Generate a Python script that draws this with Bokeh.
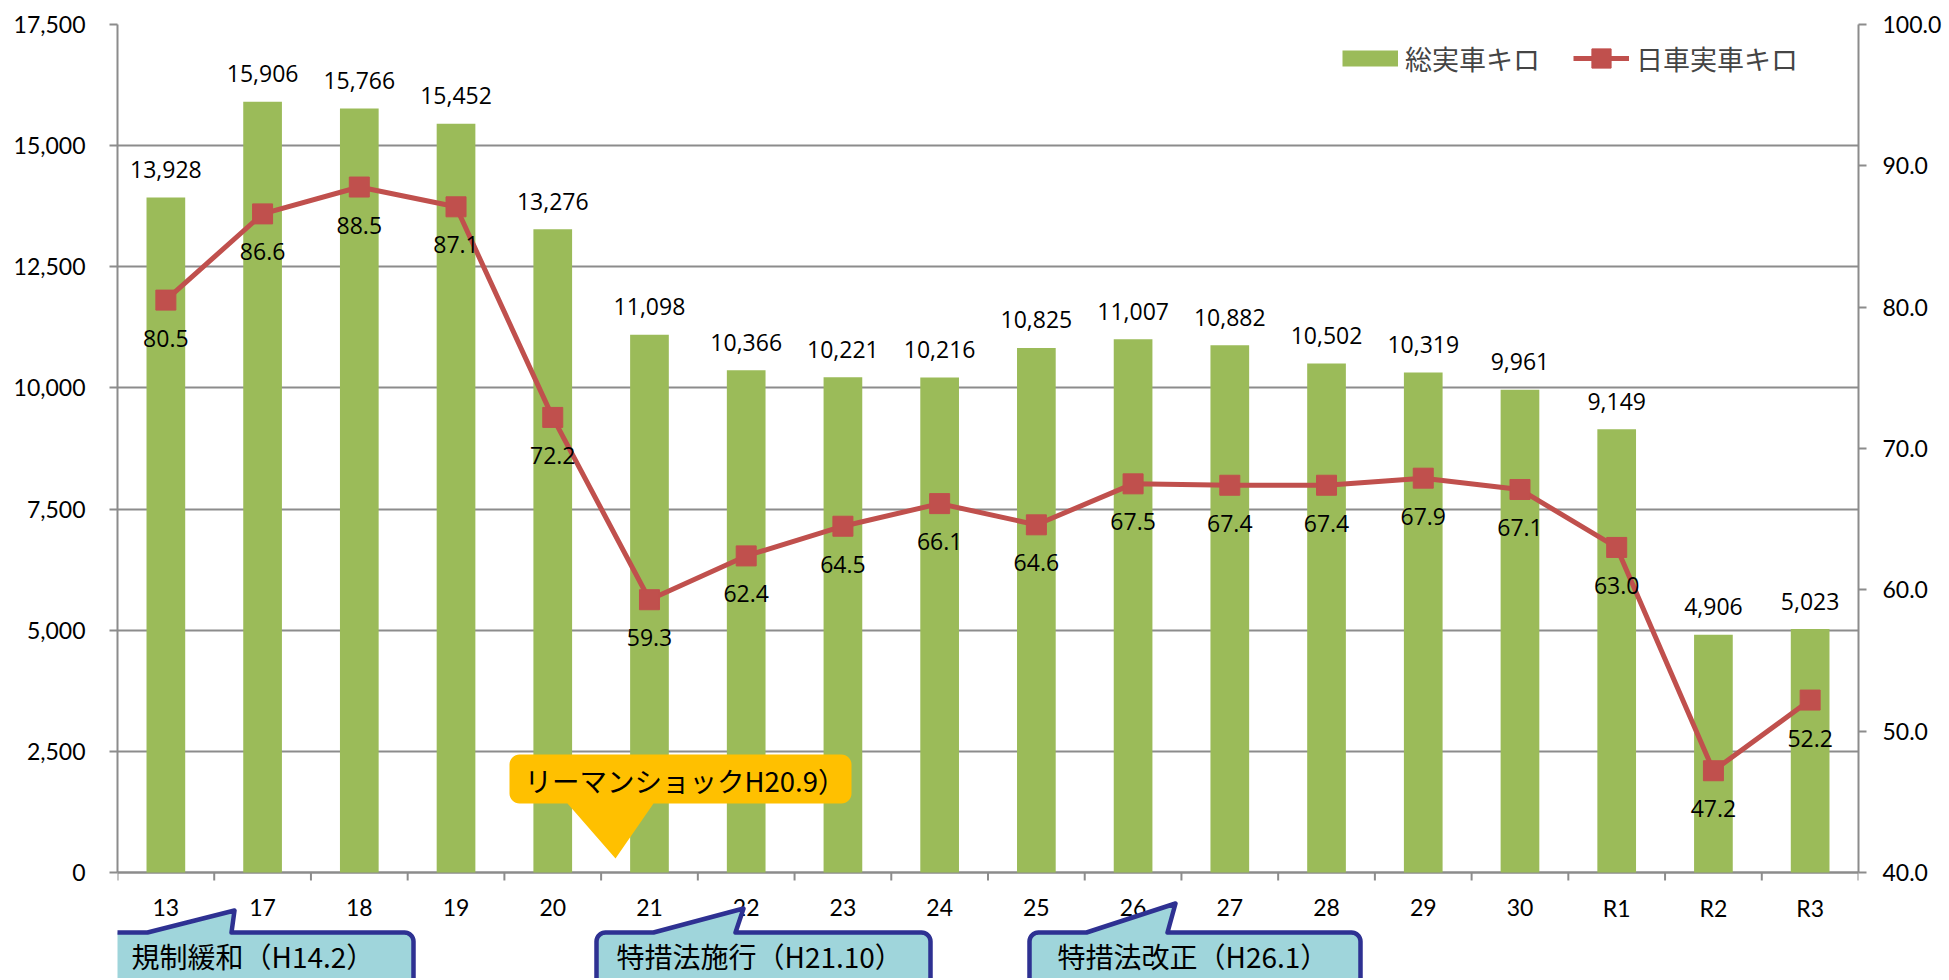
import math
import numpy as np
from bokeh.plotting import figure
from bokeh.models import (Range1d, LinearAxis, FixedTicker, NumeralTickFormatter,
                          Legend, LegendItem, PolyAnnotation, Label)
from bokeh.core.properties import value
from bokeh.embed import file_html
from bokeh.resources import INLINE

# ---------------- data ----------------
categories = ["13", "17", "18", "19", "20", "21", "22", "23", "24", "25",
              "26", "27", "28", "29", "30", "R1", "R2", "R3"]
total_km = [13928, 15906, 15766, 15452, 13276, 11098, 10366, 10221, 10216,
            10825, 11007, 10882, 10502, 10319, 9961, 9149, 4906, 5023]
daily_km = [80.5, 86.6, 88.5, 87.1, 72.2, 59.3, 62.4, 64.5, 66.1, 64.6,
            67.5, 67.4, 67.4, 67.9, 67.1, 63.0, 47.2, 52.2]
left_ticks = [0, 2500, 5000, 7500, 10000, 12500, 15000, 17500]
right_ticks = [40, 50, 60, 70, 80, 90, 100]
series_names = ["総実車キロ", "日車実車キロ"]
callout_texts = ["規制緩和（H14.2）", "特措法施行（H21.10）", "特措法改正（H26.1）",
                 "リーマンショックH20.9）"]

# ---------------- styles / layout ----------------
GREEN = "#9BBB59"
RED = "#C0504D"
GRAY = "#8C8C8C"
ORANGE = "#FFC000"
TEAL = "#9FD5DB"
NAVY = "#2E3192"
AX_FONT = "Lato"
LBL_FONT = "Open Sans"
JP_FONT = "Noto Sans CJK JP"

# canvas pixels: plotting area runs from AXIS_TOP to AXIS_Y; the frame is
# extended down to CANVAS_H so the bottom callouts can be drawn below the axis
FRAME_LEFT, FRAME_W = 117, 1741
AXIS_TOP, AXIS_Y, CANVAS_H = 24, 872, 978
PLOT_H = AXIS_Y - AXIS_TOP
Y_MAX = left_ticks[-1]
N = len(categories)
ext = (CANVAS_H - AXIS_Y) / PLOT_H          # extension below zero, as fraction

xs = [i + 0.5 for i in range(N)]

p = figure(frame_width=FRAME_W, frame_height=CANVAS_H - AXIS_TOP,
           x_range=Range1d(0, N), y_range=Range1d(-ext * Y_MAX, Y_MAX),
           output_backend="svg", toolbar_location=None,
           min_border_left=FRAME_LEFT, min_border_top=AXIS_TOP,
           min_border_right=83, min_border_bottom=0,
           x_axis_location=None,
           background_fill_color="white", border_fill_color="white",
           outline_line_color=None)

r_lo, r_hi = right_ticks[0], right_ticks[-1]
p.extra_y_ranges = {"right": Range1d(r_lo - ext * (r_hi - r_lo), r_hi)}

# y axes (real axes, bounded to the value range)
left_ticker = FixedTicker(ticks=left_ticks)
yl = p.yaxis[0]
yl.ticker = left_ticker
yl.formatter = NumeralTickFormatter(format="0,0")
yl.bounds = (left_ticks[0], left_ticks[-1])
p.ygrid.ticker = left_ticker
p.ygrid.grid_line_color = GRAY
p.ygrid.grid_line_width = 2
p.xgrid.visible = False

ax_r = LinearAxis(y_range_name="right", ticker=FixedTicker(ticks=right_ticks),
                  formatter=NumeralTickFormatter(format="0.0"), bounds=(r_lo, r_hi))
p.add_layout(ax_r, "right")

for ax in [yl, ax_r]:
    ax.axis_line_color = GRAY
    ax.axis_line_width = 2
    ax.major_tick_line_color = GRAY
    ax.major_tick_line_width = 2
    ax.major_tick_in = 0
    ax.major_tick_out = 8
    ax.minor_tick_line_color = None
    ax.major_label_text_font = AX_FONT
    ax.major_label_text_font_size = "23px"
    ax.major_label_text_color = "black"
yl.major_label_standoff = 24
ax_r.major_label_standoff = 16

# category axis: line, boundary ticks and labels
p.segment(x0=[0], y0=[0], x1=[N], y1=[0], line_color=GRAY, line_width=2)
p.ray(x=list(range(N + 1)), y=[0] * (N + 1), length=8, length_units="screen",
      angle=-math.pi / 2, line_color=GRAY, line_width=2)
p.text(x=xs, y=[0] * N, text=categories, y_offset=35,
       text_align="center", text_baseline="middle",
       text_font=value(AX_FONT), text_font_size="23px", text_color="black")

# bars
p.vbar(x=xs, top=total_km, width=0.4, fill_color=GREEN, line_color=None)

# line + markers
line_r = p.line(xs, daily_km, y_range_name="right", line_color=RED, line_width=5)
mark_r = p.scatter(xs, daily_km, y_range_name="right", marker="square", size=20,
                   fill_color=RED, line_color=RED)

# data labels
p.text(x=xs, y=total_km, text=[f"{v:,}" for v in total_km],
       text_align="center", text_baseline="middle", y_offset=-28,
       text_font=value(LBL_FONT), text_font_size="23px", text_color="black")
p.text(x=xs, y=daily_km, text=[f"{v:.1f}" for v in daily_km], y_range_name="right",
       text_align="center", text_baseline="middle", y_offset=38,
       text_font=value(LBL_FONT), text_font_size="23px", text_color="black")

# legend (a thick line swatch stands in for the bar swatch)
green_swatch = p.line(x=np.array([np.nan, np.nan]), y=np.array([np.nan, np.nan]),
                      line_color=GREEN, line_width=16, line_cap="butt")
legend_from_bottom = (CANVAS_H - AXIS_TOP) - 34 - 24
legend = Legend(items=[LegendItem(label=series_names[0], renderers=[green_swatch]),
                       LegendItem(label=series_names[1], renderers=[line_r, mark_r])],
                orientation="horizontal", location=(1225, legend_from_bottom),
                glyph_width=56, glyph_height=48, label_height=48,
                label_standoff=7, spacing=33, padding=0, margin=0,
                border_line_color=None, background_fill_alpha=0,
                label_text_font=JP_FONT, label_text_font_size="27px")
p.add_layout(legend)


# ---------------- callouts (canvas pixels) ----------------
def arc(cx, cy, r, a0, a1, n=8):
    return [(cx + r * math.cos(math.radians(a0 + (a1 - a0) * k / n)),
             cy + r * math.sin(math.radians(a0 + (a1 - a0) * k / n))) for k in range(n + 1)]


def callout_shape(left, top, right, bottom, r, bl, br, tx, ty, edge):
    pts = arc(left + r, top + r, r, 180, 270)
    if edge == "top":
        pts += [(bl, top), (tx, ty), (br, top)]
    pts += arc(right - r, top + r, r, 270, 360)
    pts += arc(right - r, bottom - r, r, 0, 90)
    if edge == "bottom":
        pts += [(br, bottom), (tx, ty), (bl, bottom)]
    pts += arc(left + r, bottom - r, r, 90, 180)
    return [x for x, _ in pts], [y for _, y in pts]


def add_callout(shape, text, tx, ty, fill, line_color, font_size):
    xs_c, ys_c = shape
    p.add_layout(PolyAnnotation(xs=xs_c, ys=ys_c, xs_units="canvas", ys_units="canvas",
                                fill_color=fill, fill_alpha=1,
                                line_color=line_color, line_alpha=1, line_width=4.5,
                                line_join="round"))
    p.add_layout(Label(x=tx, y=ty, x_units="canvas", y_units="canvas", text=text,
                       text_font=JP_FONT, text_font_size=font_size, text_color="black",
                       text_align="left", text_baseline="middle"))


# (left, top, right, bottom, base_left, base_right, tip_x, tip_y, text_x, text_y)
blue_boxes = [
    (93, 932, 413, 998, 147, 231, 234, 910, 131, 955),
    (596, 932, 930, 998, 653, 735, 743, 908, 616, 955),
    (1029, 932, 1360, 998, 1086, 1167, 1175, 903, 1057, 955),
]
for txt, (l, t, r_, b, bl, br, tx, ty, lx, ly) in zip(callout_texts[:3], blue_boxes):
    add_callout(callout_shape(l, t, r_, b, 9, bl, br, tx, ty, "top"), txt, lx, ly,
                TEAL, NAVY, "28px")

add_callout(callout_shape(509, 754, 851, 803, 10, 567, 653, 615, 858, "bottom"),
            callout_texts[3], 524, 779, ORANGE, None, "27.5px")

open("out.html", "w").write(file_html(p, INLINE))
